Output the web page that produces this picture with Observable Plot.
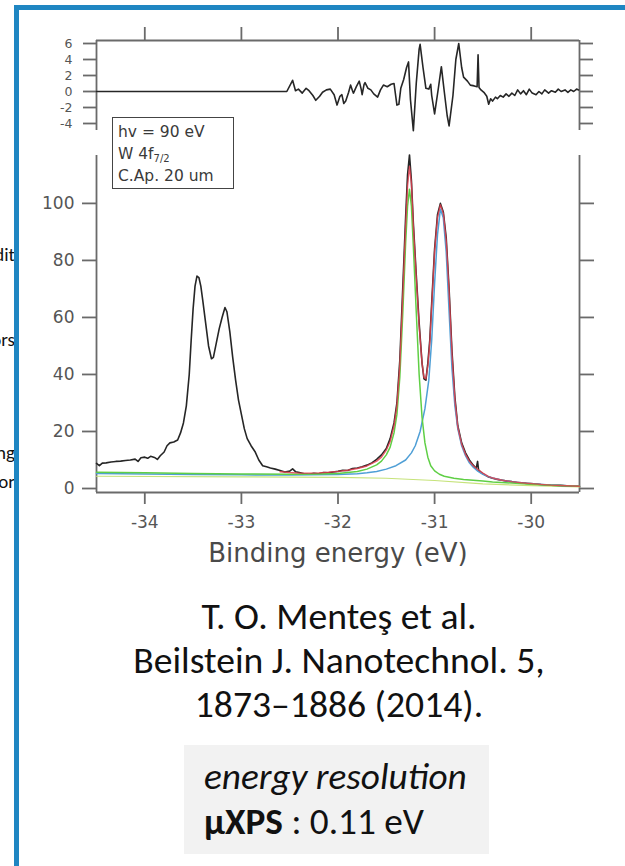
<!DOCTYPE html>
<html><head><meta charset="utf-8">
<script src="https://cdn.jsdelivr.net/npm/d3@7"></script>
<script src="https://cdn.jsdelivr.net/npm/@observablehq/plot@0.6"></script>
<style>
html,body{margin:0;padding:0;background:#fff;}
#page{position:relative;width:625px;height:866px;overflow:hidden;background:#fff;}
.abs{position:absolute;}
#frame{position:absolute;left:14px;top:5px;width:700px;height:900px;border-left:5px solid #1f86c2;border-top:5px solid #1f86c2;box-sizing:border-box;}
#stray{position:absolute;left:0;top:0;width:15px;height:866px;overflow:hidden;font-family:Carlito,Calibri,Lato,sans-serif;font-size:19px;color:#111;}
#stray div{position:absolute;right:0;white-space:nowrap;line-height:20px;}
#legend{position:absolute;left:112px;top:117px;width:122px;height:72px;border:1.5px solid #444;box-sizing:border-box;background:#fff;
  font-family:"DejaVu Sans",sans-serif;font-size:15.5px;color:#3a3a3a;padding:3px 0 0 5px;}
#legend div{height:22px;line-height:22px;white-space:nowrap;}
#legend sub{font-size:10px;line-height:0;vertical-align:-3px;}
#caption{position:absolute;left:139px;top:595px;width:400px;text-align:center;font-family:Carlito,Calibri,Lato,sans-serif;font-size:36px;line-height:44px;color:#111;transform:scaleX(1.045);transform-origin:200px 0;}
#reso{position:absolute;left:184px;top:745px;width:305px;height:109px;background:#f2f2f2;font-family:Carlito,Calibri,Lato,sans-serif;font-size:36px;line-height:45px;color:#111;padding:10px 0 0 20px;box-sizing:border-box;}
#reso div{transform:scaleX(1.035);transform-origin:0 0;white-space:nowrap;}
</style></head>
<body><div id="page">
<div id="stray"><div style="top:245px">edit</div><div style="top:330px">tors</div><div style="top:443px">ing</div><div style="top:472px">for</div></div>
<div id="res" class="abs" style="left:0;top:0"></div>
<div id="main" class="abs" style="left:0;top:140px"></div>
<div id="legend"></div>
<div id="caption"></div>
<div id="reso"></div>
<div id="frame"></div>
</div>
<script>
// ---------- data ----------
const xDomain = [-34.5, -29.5];
const xTicks = [-34, -33, -32, -31, -30];
const resDomain = [-4.875, 6.375];
const resTicks = [-4, -2, 0, 2, 4, 6];
const mainDomain = [-1.4, 116.8];
const mainTicks = [0, 20, 40, 60, 80, 100];
const xLabel = "Binding energy (eV)";
const legendLines = ["hv = 90 eV", "W 4f<sub>7/2</sub>", "C.Ap. 20 um"];
const captionLines = ["T. O. Menteş et al.", "Beilstein J. Nanotechnol. 5,", "1873–1886 (2014)."];
const resoLines = ["<i>energy resolution</i>", "<b>µXPS</b> : 0.11 eV"];

// residual
const resE = [-34.5,-32.53,-32.47,-32.44,-32.41,-32.37,-32.33,-32.30,-32.26,-32.23,-32.19,-32.16,-32.12,-32.08,-32.04,-32.01,-31.98,-31.96,-31.94,-31.92,-31.89,-31.87,-31.85,-31.84,-31.81,-31.78,-31.76,-31.75,-31.73,-31.72,-31.69,-31.66,-31.63,-31.59,-31.56,-31.53,-31.49,-31.45,-31.42,-31.39,-31.37,-31.35,-31.32,-31.29,-31.27,-31.25,-31.22,-31.19,-31.16,-31.15,-31.12,-31.09,-31.06,-31.04,-31.03,-31.00,-30.96,-30.93,-30.90,-30.87,-30.85,-30.81,-30.78,-30.75,-30.72,-30.70,-30.66,-30.63,-30.59,-30.56,-30.55,-30.54,-30.52,-30.49,-30.46,-30.44,-30.42,-30.40,-30.37,-30.35,-30.32,-30.29,-30.26,-30.23,-30.20,-30.17,-30.14,-30.11,-30.08,-30.05,-30.02,-29.99,-29.95,-29.92,-29.89,-29.86,-29.82,-29.79,-29.75,-29.72,-29.69,-29.65,-29.62,-29.59,-29.56,-29.53,-29.51];
const resV = [0,0,1.4,0.1,0.3,-0.2,0.4,0.1,-0.5,-1.1,-0.6,-0.1,0.2,0.3,-0.4,-1.7,-0.6,-0.4,-1.5,-1.2,-0.1,0.8,0.1,-0.2,0.6,1.3,0.3,-0.4,0.9,1.1,0.4,0.2,-0.3,-0.7,0.2,0.8,0.6,0.9,1.0,-1.7,-1.6,0.4,1.5,3.0,3.7,-1.0,-4.9,1.0,5.3,5.9,3.0,0.4,0.3,0.9,-0.5,-2.8,0.5,3.1,0.0,-3.0,-4.3,-0.5,4.0,6.0,3.0,1.8,1.3,0.8,0.7,0.6,4.6,0.5,0.2,-0.1,-0.6,-1.6,-0.9,-1.2,-0.7,-0.9,-0.5,-0.7,-0.3,-0.6,-0.2,-0.5,0.2,-0.3,0.1,-0.4,0.3,-0.2,-0.4,0.0,-0.3,0.2,-0.2,0.1,-0.1,0.3,0.0,0.2,-0.1,0.2,0.0,0.3,0.2];

// measured spectrum (black)
const dataE = [-34.50,-34.47,-34.44,-34.40,-34.35,-34.30,-34.25,-34.20,-34.15,-34.10,-34.07,-34.04,-34.00,-33.97,-33.94,-33.90,-33.87,-33.84,-33.80,-33.77,-33.74,-33.70,-33.66,-33.63,-33.60,-33.57,-33.54,-33.52,-33.50,-33.48,-33.46,-33.44,-33.42,-33.40,-33.37,-33.34,-33.31,-33.29,-33.26,-33.23,-33.20,-33.17,-33.15,-33.12,-33.09,-33.06,-33.03,-33.00,-32.97,-32.94,-32.90,-32.86,-32.82,-32.78,-32.74,-32.70,-32.65,-32.60,-32.55,-32.50,-32.47,-32.44,-32.40,-32.35,-32.30,-32.25,-32.20,-32.15,-32.10,-32.05,-32.00,-31.95,-31.90,-31.85,-31.80,-31.75,-31.70,-31.65,-31.60,-31.55,-31.50,-31.46,-31.42,-31.39,-31.36,-31.33,-31.30,-31.28,-31.26,-31.24,-31.22,-31.19,-31.16,-31.13,-31.11,-31.09,-31.07,-31.05,-31.03,-31.00,-30.97,-30.94,-30.91,-30.88,-30.85,-30.82,-30.79,-30.76,-30.72,-30.68,-30.64,-30.60,-30.57,-30.555,-30.545,-30.52,-30.48,-30.44,-30.40,-30.35,-30.30,-30.25,-30.20,-30.15,-30.10,-30.05,-30.00,-29.90,-29.80,-29.70,-29.60,-29.50];
const dataI = [8.8,8.0,8.9,9.0,9.3,9.5,9.6,9.8,10.0,10.3,9.5,10.8,11.0,10.6,11.3,10.9,10.2,11.5,12.8,15.0,16.0,16.3,17.0,19.5,23.0,29.0,40.0,52.0,63.0,71.0,74.5,74.0,71.0,66.0,58.0,50.0,45.5,46.0,51.0,56.0,60.0,63.5,62.0,55.0,46.0,38.0,31.0,26.0,21.0,17.5,15.0,13.0,10.0,8.0,7.6,7.2,6.8,6.3,5.8,6.1,6.9,5.9,5.6,5.2,5.0,5.3,5.2,5.6,5.5,5.8,6.0,6.4,6.3,7.0,7.2,7.6,8.2,9.0,10.2,11.8,14.0,17.5,23.0,30.0,45.0,70.0,95.0,110.0,117.0,108.0,93.0,75.0,58.0,44.0,38.5,38.0,44.0,52.0,65.0,84.0,96.0,100.0,97.0,88.0,70.0,48.0,32.0,22.0,16.0,12.5,10.0,8.2,7.0,9.5,6.5,5.6,4.8,4.0,3.6,3.2,2.9,2.6,2.4,2.1,2.0,1.8,1.7,1.4,1.2,1.1,0.9,0.8];

// total fit (red)
const fitE = [-32.60,-32.50,-32.40,-32.30,-32.20,-32.10,-32.00,-31.90,-31.80,-31.70,-31.60,-31.55,-31.50,-31.46,-31.42,-31.39,-31.36,-31.33,-31.30,-31.28,-31.26,-31.24,-31.22,-31.19,-31.16,-31.13,-31.11,-31.09,-31.07,-31.05,-31.03,-31.00,-30.97,-30.94,-30.91,-30.88,-30.85,-30.82,-30.79,-30.76,-30.72,-30.68,-30.64,-30.60,-30.55,-30.50,-30.44,-30.40,-30.30,-30.20,-30.10,-30.00,-29.80,-29.50];
const fitI = [5.9,5.6,5.4,5.4,5.5,5.7,6.0,6.4,7.0,7.9,9.6,11.0,13.5,16.5,22,29,43,67,92,106,113,107,92,74,57,44,39,38.5,43,51,64,83,95,99.5,96.5,87,69,47,31,21.5,15.5,12,9.6,8,6.6,5.4,4.2,3.7,2.9,2.4,2.0,1.7,1.2,0.8];

// component 1 (green)
const c1E = [-34.50,-34.00,-33.50,-33.00,-32.50,-32.20,-32.00,-31.90,-31.80,-31.70,-31.60,-31.55,-31.50,-31.46,-31.42,-31.39,-31.36,-31.33,-31.30,-31.28,-31.26,-31.24,-31.22,-31.19,-31.16,-31.13,-31.10,-31.07,-31.04,-31.00,-30.95,-30.90,-30.80,-30.70,-30.60,-30.50,-30.40,-30.20,-30.00,-29.80,-29.50];
const c1I = [5.7,5.5,5.3,5.1,5.0,5.1,5.3,5.6,6.0,6.8,8.3,9.6,11.8,14.5,19.5,26,39,61,86,99,105,99,85,62,40,25,16,11,8,6.2,5.0,4.3,3.6,3.2,2.9,2.6,2.3,1.9,1.5,1.1,0.8];

// component 2 (blue)
const c2E = [-34.50,-34.00,-33.50,-33.00,-32.50,-32.00,-31.80,-31.70,-31.60,-31.50,-31.40,-31.30,-31.24,-31.20,-31.15,-31.10,-31.06,-31.03,-31.00,-30.97,-30.94,-30.91,-30.88,-30.85,-30.82,-30.79,-30.76,-30.72,-30.68,-30.64,-30.60,-30.55,-30.50,-30.44,-30.40,-30.30,-30.20,-30.10,-30.00,-29.80,-29.50];
const c2I = [5.3,5.1,4.9,4.8,4.7,4.9,5.2,5.5,6.0,6.8,8.0,10.0,12.5,15,20,28,38,52,72,89,98,95,83,62,42,29,21,15,11.5,9.0,7.5,6.0,5.0,4.1,3.7,2.9,2.4,2.0,1.7,1.2,0.8];

// background (yellow-green)
const bgE = [-34.5,-33.0,-32.0,-31.5,-31.0,-30.5,-30.0,-29.5];
const bgI = [4.3,4.1,3.9,3.6,2.8,1.6,1.0,0.6];

// ---------- drawing ----------
const zip = (E, V) => E.map((e, i) => ({e, v: V[i]}));
const axisColor = "#6a6a6a";
const tickColor = "#555";
const font = '"DejaVu Sans", sans-serif';
const hyphen = d => String(d);

const resPlot = Plot.plot({
  width: 625, height: 135,
  marginLeft: 96, marginRight: 46, marginTop: 40, marginBottom: 5,
  x: {domain: xDomain},
  y: {domain: resDomain},
  style: {fontFamily: font, background: "transparent", overflow: "visible"},
  marks: [
    Plot.ruleX(xDomain, {stroke: axisColor, strokeWidth: 1.8}),
    Plot.ruleY([resDomain[1]], {stroke: axisColor, strokeWidth: 1.8}),
    Plot.axisY({anchor: "left", ticks: resTicks, tickSize: 13, tickPadding: 11, fontSize: 12.5, color: tickColor, stroke: axisColor, strokeWidth: 1.8, tickFormat: hyphen, label: null}),
    Plot.axisY({anchor: "right", ticks: resTicks, tickSize: 13, fontSize: 1, stroke: axisColor, strokeWidth: 1.8, tickFormat: () => "", label: null}),
    Plot.axisX({anchor: "top", ticks: xTicks, tickSize: 14, fontSize: 1, stroke: axisColor, strokeWidth: 1.8, tickFormat: () => "", label: null}),
    Plot.line(zip(resE, resV), {x: "e", y: "v", stroke: "#262626", strokeWidth: 1.6, strokeLinejoin: "round"})
  ]
});
document.getElementById("res").appendChild(resPlot);

const mainPlot = Plot.plot({
  width: 625, height: 430,
  marginLeft: 96, marginRight: 46, marginTop: 15, marginBottom: 78,
  x: {domain: xDomain},
  y: {domain: mainDomain},
  style: {fontFamily: font, background: "transparent", overflow: "visible"},
  marks: [
    Plot.ruleX(xDomain, {stroke: axisColor, strokeWidth: 1.8}),
    Plot.ruleY([mainDomain[0]], {stroke: axisColor, strokeWidth: 1.8}),
    Plot.axisY({anchor: "left", ticks: mainTicks, tickSize: 14, tickPadding: 8, fontSize: 17, color: tickColor, stroke: axisColor, strokeWidth: 1.8, tickFormat: hyphen, label: null}),
    Plot.axisY({anchor: "right", ticks: mainTicks, tickSize: 14, fontSize: 1, stroke: axisColor, strokeWidth: 1.8, tickFormat: () => "", label: null}),
    Plot.axisX({anchor: "bottom", ticks: xTicks, tickSize: 12, tickPadding: 11, fontSize: 17, color: tickColor, stroke: axisColor, strokeWidth: 1.8, tickFormat: hyphen, label: null}),
    Plot.text([xLabel], {frameAnchor: "bottom", dy: 61, lineAnchor: "middle", fontSize: 26, fill: "#4a4a4a"}),
    Plot.line(zip(bgE, bgI), {x: "e", y: "v", stroke: "#c6e37a", strokeWidth: 1.2}),
    Plot.line(zip(dataE, dataI), {x: "e", y: "v", stroke: "#262626", strokeWidth: 1.6, strokeLinejoin: "round"}),
    Plot.line(zip(c2E, c2I), {x: "e", y: "v", stroke: "#4f9fd6", strokeWidth: 1.5}),
    Plot.line(zip(c1E, c1I), {x: "e", y: "v", stroke: "#5fcf45", strokeWidth: 1.5}),
    Plot.line(zip(fitE, fitI), {x: "e", y: "v", stroke: "#e0404f", strokeWidth: 1.4, strokeOpacity: 0.85})
  ]
});
document.getElementById("main").appendChild(mainPlot);

document.getElementById("legend").innerHTML = legendLines.map(l => `<div>${l}</div>`).join("");
document.getElementById("caption").innerHTML = captionLines.map(l => `<div>${l}</div>`).join("");
document.getElementById("reso").innerHTML = resoLines.map(l => `<div>${l}</div>`).join("");
</script>
</body></html>
